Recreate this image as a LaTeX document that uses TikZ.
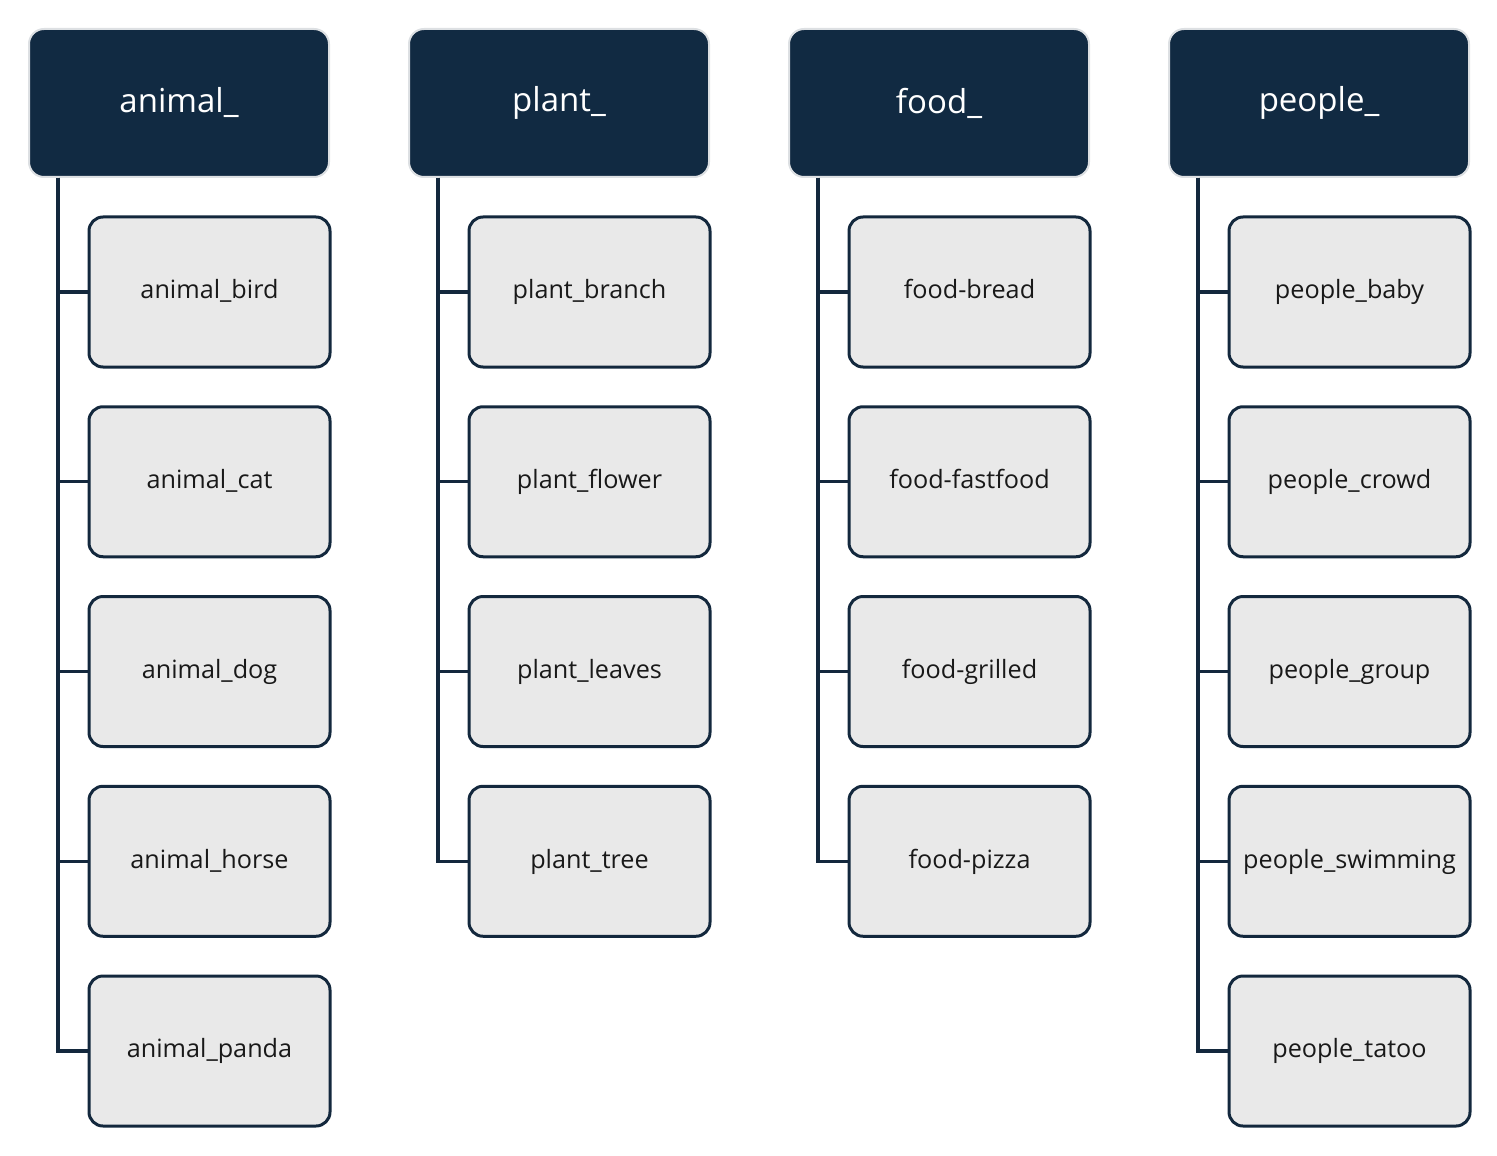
\documentclass[tikz,border=0pt]{standalone}
\usepackage{fontspec}
\setmainfont{Open Sans}
\usetikzlibrary{calc}
\definecolor{navy}{HTML}{112A42}
\definecolor{hdrline}{HTML}{DDE0E3}
\definecolor{kidfill}{HTML}{E9E9E9}
\definecolor{kidline}{HTML}{13283D}
\tikzset{
  hdr/.style={draw=hdrline, line width=1pt, fill=navy, rounded corners=7.5pt,
    minimum width=150pt, minimum height=74pt, inner sep=0pt, text=white,
    font=\fontsize{16.5}{20}\selectfont},
  kid/.style={draw=kidline, line width=1.5pt, fill=kidfill, rounded corners=7pt,
    minimum width=120.5pt, minimum height=75pt, inner sep=0pt, text=black!90,
    text height=1.75ex, text depth=0.45ex,
    font=\fontsize{12.6}{15}\selectfont},
  conn/.style={draw=kidline, line width=1.6pt}
}
\begin{document}
\begin{tikzpicture}[x=0.5pt,y=-0.5pt]
\useasboundingbox (0,0) rectangle (1497,1155);
\foreach [count=\ci from 0] \h/\kids in {
  animal/{animal\_bird,animal\_cat,animal\_dog,animal\_horse,animal\_panda},
  plant/{plant\_branch,plant\_flower,plant\_leaves,plant\_tree},
  food/{food-bread,food-fastfood,food-grilled,food-pizza},
  people/{people\_baby,people\_crowd,people\_group,people\_swimming,people\_tatoo}} {
  \node[hdr] (h\ci) at ({179+380*\ci},103) {\h\_};
  \coordinate (t\ci) at ($(h\ci.south west)+(30,0)$);
  \foreach [count=\ki] \k in \kids {
    \node[kid] (k\ci-\ki) at ({209.5+380*\ci},{292+189.75*(\ki-1)}) {\k};
    \draw[conn] (t\ci) |- (k\ci-\ki.west);
  }
}
\end{tikzpicture}
\end{document}
